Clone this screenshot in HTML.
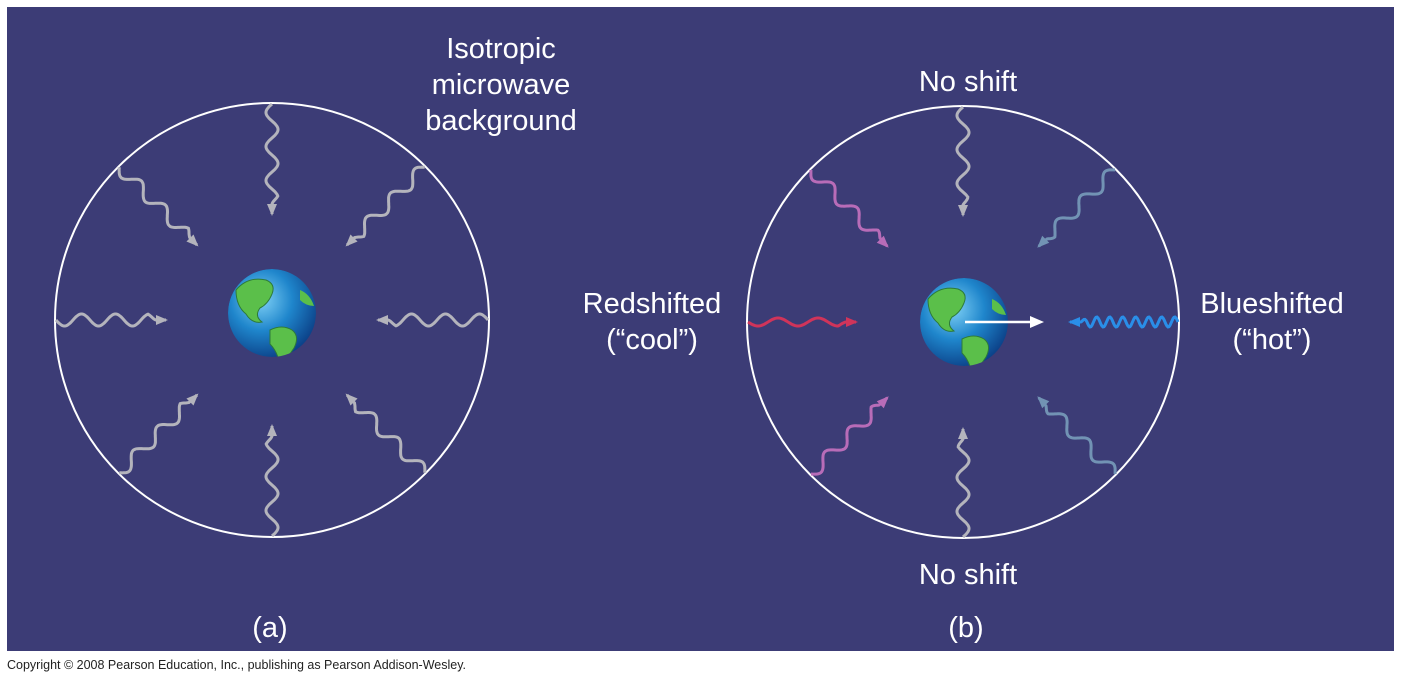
<!DOCTYPE html>
<html><head><meta charset="utf-8"><style>
html,body{margin:0;padding:0;background:#fff;width:1402px;height:682px;overflow:hidden}
svg{display:block}
text{font-family:"Liberation Sans",sans-serif}
</style></head><body>
<svg id="s" width="1402" height="682" viewBox="0 0 1402 682">
<defs>
<radialGradient id="eg" cx="0.38" cy="0.35" r="0.7">
<stop offset="0" stop-color="#7fd0f5"/><stop offset="0.5" stop-color="#1f86cc"/><stop offset="1" stop-color="#0b3f86"/>
</radialGradient>
<clipPath id="ec1"><circle cx="272" cy="313" r="44"/></clipPath>
<clipPath id="ec2"><circle cx="964" cy="322" r="44"/></clipPath>
</defs>
<rect x="7" y="7" width="1387" height="644" fill="#3c3c76"/>
<circle cx="272" cy="320" r="217" fill="none" stroke="#fff" stroke-width="2"/>
<circle cx="963" cy="322" r="216" fill="none" stroke="#fff" stroke-width="2"/>
<g id="rays"></g>
<g clip-path="url(#ec1)">
<circle cx="272" cy="313" r="44" fill="url(#eg)"/>
<path d="M236 290 q12 -14 30 -10 q10 4 6 14 q-4 10 -12 14 q-6 8 2 14 q-10 2 -16 -8 q-10 -8 -10 -24z" fill="#5bbf4a" stroke="#2d7a3a"/>
<path d="M270 330 q12 -6 22 0 q8 6 2 18 q-8 12 -14 18 q-2 -14 -10 -22z" fill="#5bbf4a" stroke="#2d7a3a"/>
<path d="M300 290 q10 4 14 16 q-8 0 -14 -6z" fill="#5bbf4a"/>
</g>
<g clip-path="url(#ec2)">
<circle cx="964" cy="322" r="44" fill="url(#eg)"/>
<path d="M928 299 q12 -14 30 -10 q10 4 6 14 q-4 10 -12 14 q-6 8 2 14 q-10 2 -16 -8 q-10 -8 -10 -24z" fill="#5bbf4a" stroke="#2d7a3a"/>
<path d="M962 339 q12 -6 22 0 q8 6 2 18 q-8 12 -14 18 q-2 -14 -10 -22z" fill="#5bbf4a" stroke="#2d7a3a"/>
<path d="M992 299 q10 4 14 16 q-8 0 -14 -6z" fill="#5bbf4a"/>
</g>
<line x1="965" y1="322" x2="1032" y2="322" stroke="#fff" stroke-width="2.5"/>
<polygon points="1044,322 1030,316 1030,328" fill="#fff"/>
<g fill="#fff" font-size="29" text-anchor="middle">
<text x="501" y="58">Isotropic</text>
<text x="501" y="94">microwave</text>
<text x="501" y="130">background</text>
<text x="968" y="91">No shift</text>
<text x="968" y="584">No shift</text>
<text x="652" y="313">Redshifted</text>
<text x="652" y="349">(“cool”)</text>
<text x="1272" y="313">Blueshifted</text>
<text x="1272" y="349">(“hot”)</text>
<text x="270" y="637">(a)</text>
<text x="966" y="637">(b)</text>
</g>
<text x="7" y="669" font-size="12.5" fill="#222">Copyright © 2008 Pearson Education, Inc., publishing as Pearson Addison-Wesley.</text>
</svg>
<script>
var g=document.getElementById('rays'),NS='http://www.w3.org/2000/svg';
function ray(x1,y1,x2,y2,col,wl,amp,w){
 var dx=x2-x1,dy=y2-y1,L=Math.hypot(dx,dy),ux=dx/L,uy=dy/L,nx=-uy,ny=ux;
 var ah=12,Lw=L-ah,d='';
 for(var t=0;t<=Lw;t+=1){var a=amp*Math.sin(t/wl*2*Math.PI)*Math.min(1,(Lw-t)/8);
  var px=x1+ux*t+nx*a,py=y1+uy*t+ny*a;d+=(t?'L':'M')+px.toFixed(1)+' '+py.toFixed(1);}
 d+='L'+(x1+ux*(L-2)).toFixed(1)+' '+(y1+uy*(L-2)).toFixed(1);
 var p=document.createElementNS(NS,'path');p.setAttribute('d',d);p.setAttribute('fill','none');
 p.setAttribute('stroke',col);p.setAttribute('stroke-width',w||3);g.appendChild(p);
 var bx=x2-ux*ah,by=y2-uy*ah,pg=document.createElementNS(NS,'polygon');
 pg.setAttribute('points',x2+','+y2+' '+(bx+nx*5)+','+(by+ny*5)+' '+(bx-nx*5)+','+(by-ny*5));
 pg.setAttribute('fill',col);g.appendChild(pg);}
var gr='#b4b4bc';
function set(cx,cy,R,r,cols,ov){
 for(var i=0;i<8;i++){var an=i*Math.PI/4,c=Math.cos(an),s=Math.sin(an);
  var o=ov[i]||{};
  ray(cx+c*R,cy+s*R,cx+c*r,cy+s*r,cols[i],o.wl||34,o.amp||6,o.w);}}
set(272,320,216,104,[gr,gr,gr,gr,gr,gr,gr,gr],{});
var pk='#b86cb8',bl='#7293b4';
set(963,322,215,105,['#2a8ee8',bl,gr,pk,'#d0345a',pk,gr,bl],{0:{wl:13,amp:5},4:{wl:40,amp:4}});
</script>
</body></html>
